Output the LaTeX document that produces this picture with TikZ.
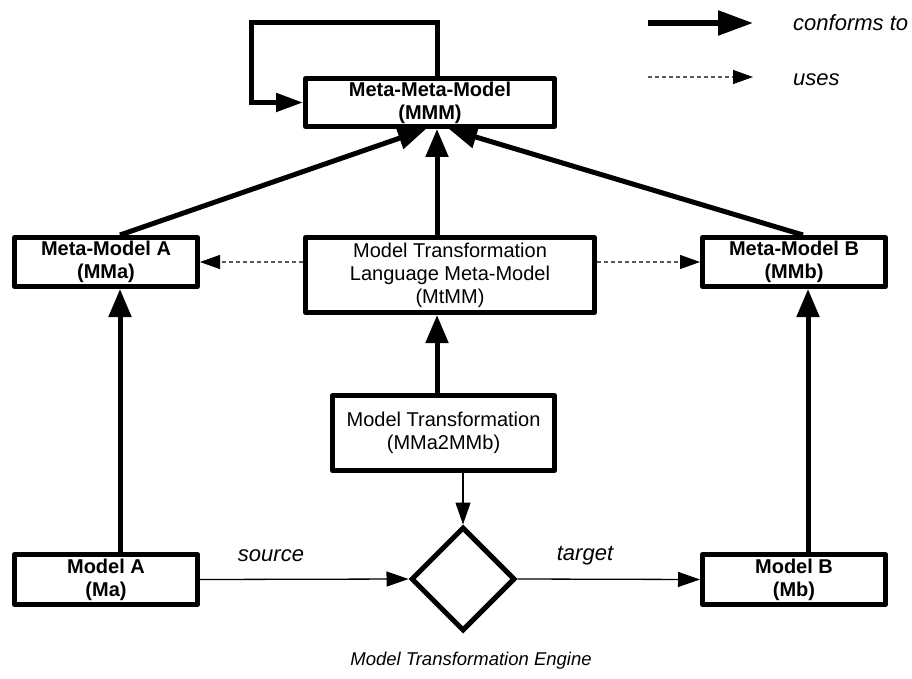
\documentclass[tikz,border=0pt]{standalone}
\usepackage{fontspec}
\setmainfont{Liberation Sans}
\newfontfamily\boxfont{Liberation Sans}
\usetikzlibrary{arrows.meta,shapes.geometric}
\tikzset{
  box/.style={draw, line width=5pt, line join=round, inner sep=0pt, align=center,
    font=\boxfont\fontsize{20}{23}\selectfont},
  boldbox/.style={box, font=\boxfont\bfseries\fontsize{20}{23}\selectfont},
  conf/.style={line width=5pt, -{Triangle[length=28pt,width=22pt]}},
  thinarr/.style={line width=1.3pt, -{Triangle[length=22pt,width=15pt]}},
  uses/.style={line width=1.3pt, draw=black!65, dash pattern=on 4pt off 3pt,
    -{Triangle[length=20pt,width=14pt,fill=black,color=black]}},
  lab/.style={font=\itshape\fontsize{22}{26}\selectfont, inner sep=0pt},
}
\begin{document}
\begin{tikzpicture}[x=1pt,y=-1pt]
\useasboundingbox (0,0) rectangle (912,679);

% boxes
\node[boldbox, minimum width=249pt, minimum height=48pt] (mmm) at (430,102.5) {Meta-Meta-Model\\(MMM)};
\node[boldbox, minimum width=183pt, minimum height=49pt] (mma) at (106,262) {Meta-Model A\\(MMa)};
\node[boldbox, minimum width=183pt, minimum height=49pt] (mmb) at (794,262) {Meta-Model B\\(MMb)};
\node[box, minimum width=289pt, minimum height=75pt] (mtmm) at (450,275) {Model Transformation\\Language Meta-Model\\(MtMM)};
\node[box, minimum width=222pt, minimum height=75pt] (mt) at (443.5,433) {Model Transformation\\(MMa2MMb)};
\node[boldbox, minimum width=183pt, minimum height=50pt] (ma) at (106,579.5) {Model A\\(Ma)};
\node[boldbox, minimum width=183pt, minimum height=50pt] (mb) at (794,579.5) {Model B\\(Mb)};
\node[draw, diamond, line width=5pt, inner sep=0pt, minimum width=104pt, minimum height=104pt] (eng) at (463,579) {};

% labels
\node[lab, anchor=center] (src) at (271,556) {source};
\node[lab, anchor=center] (tgt) at (585,556) {target};
\node[inner sep=0pt, font=\itshape\fontsize{18.5}{22}\selectfont] (engl) at (471,661) {Model Transformation Engine};

% self loop
\coordinate (loop) at (251,23);
\draw[line width=5pt, line join=miter, -{Triangle[length=27pt,width=18pt]}] ([xshift=7pt]mmm.north) |- (loop) |- (mmm.west);

% conforms-to arrows
\draw[conf] ([xshift=14pt]mma.north) -- ([xshift=-4pt]mmm.south);
\draw[conf] ([xshift=9pt]mmb.north) -- ([xshift=19pt]mmm.south);
\draw[conf] ([xshift=-13pt]mtmm.north) -- ([xshift=7pt]mmm.south);
\draw[conf] ([xshift=-6.5pt]mt.north) -- ([xshift=-13pt]mtmm.south);
\draw[conf] ([xshift=14pt]ma.north) -- ([xshift=14pt]mma.south);
\draw[conf] ([xshift=14pt]mb.north) -- ([xshift=14pt]mmb.south);

% uses arrows
\draw[uses] (mtmm.west |- mma.east) -- (mma.east);
\draw[uses] (mtmm.east |- mmb.west) -- (mmb.west);

% thin arrows
\draw[thinarr] ([xshift=19.5pt]mt.south) -- (eng.north);
\draw[thinarr] (ma.east) -- (eng.west);
\draw[thinarr] (eng.east) -- (mb.west);

% legend
\coordinate (c1) at (648,23);
\coordinate (c2) at (753,23);
\coordinate (u1) at (648,77);
\coordinate (u2) at (753,77);
\draw[line width=5.5pt, -{Triangle[length=35pt,width=24pt]}] (c1) -- (c2);
\draw[uses] (u1) -- (u2);
\node[lab, anchor=west] (lc) at (793,23) {conforms to};
\node[lab, anchor=west] (lu) at (793,80) {uses};
\end{tikzpicture}
\end{document}
